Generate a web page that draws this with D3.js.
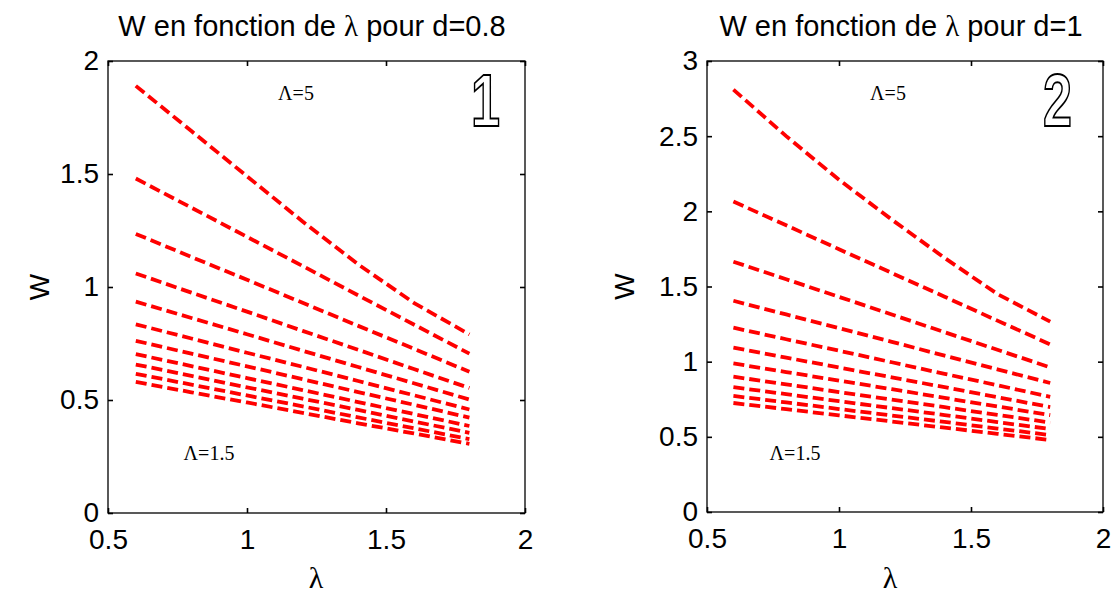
<!DOCTYPE html>
<html>
<head>
<meta charset="utf-8">
<script src="https://cdn.jsdelivr.net/npm/d3@7"></script>
<style>
  body { margin: 0; background: #fff; }
  svg { display: block; }
  .tick text { font-family: Arial, "Liberation Sans", sans-serif; }
</style>
</head>
<body>
<div id="chart"></div>
<script>
// lambda sample points (x)
var lambdas = [0.6, 0.8, 1.0, 1.2, 1.4, 1.6, 1.8];

// W values for d=0.8, one row per curve (Lambda = 5 at top ... 1.5 at bottom)
var wLeft = [
  [1.89, 1.69, 1.49, 1.29, 1.10, 0.93, 0.79],
  [1.48, 1.351, 1.222, 1.093, 0.963, 0.834, 0.705],
  [1.235, 1.133, 1.032, 0.930, 0.828, 0.727, 0.625],
  [1.06, 0.975, 0.891, 0.806, 0.722, 0.637, 0.553],
  [0.935, 0.863, 0.791, 0.718, 0.646, 0.574, 0.502],
  [0.835, 0.772, 0.709, 0.647, 0.584, 0.521, 0.458],
  [0.762, 0.705, 0.649, 0.592, 0.535, 0.479, 0.422],
  [0.703, 0.650, 0.597, 0.544, 0.491, 0.438, 0.385],
  [0.657, 0.607, 0.556, 0.506, 0.456, 0.405, 0.355],
  [0.616, 0.568, 0.520, 0.472, 0.423, 0.375, 0.327],
  [0.58, 0.534, 0.489, 0.443, 0.397, 0.352, 0.306]
];

// W values for d=1
var wRight = [
  [2.81, 2.50, 2.21, 1.945, 1.69, 1.45, 1.266],
  [2.065, 1.907, 1.748, 1.590, 1.432, 1.273, 1.115],
  [1.665, 1.548, 1.431, 1.314, 1.196, 1.079, 0.962],
  [1.405, 1.314, 1.223, 1.132, 1.040, 0.949, 0.858],
  [1.226, 1.149, 1.073, 0.996, 0.919, 0.843, 0.766],
  [1.093, 1.027, 0.961, 0.896, 0.830, 0.764, 0.698],
  [0.988, 0.931, 0.874, 0.817, 0.759, 0.702, 0.645],
  [0.90, 0.849, 0.798, 0.748, 0.697, 0.646, 0.595],
  [0.83, 0.784, 0.737, 0.691, 0.645, 0.598, 0.552],
  [0.772, 0.729, 0.685, 0.642, 0.599, 0.555, 0.512],
  [0.725, 0.684, 0.643, 0.602, 0.561, 0.520, 0.479]
];

var xTicks = [0.5, 1, 1.5, 2];
var yTicksLeft = [0, 0.5, 1, 1.5, 2];
var yTicksRight = [0, 0.5, 1, 1.5, 2, 2.5, 3];

var W = 1118, H = 595;
var svg = d3.select("#chart").append("svg")
    .attr("width", W).attr("height", H);

var panels = [
  {left: 108, right: 525, top: 61, bottom: 513, ymax: 2, yticks: yTicksLeft, data: wLeft,
   title: "d=0.8", titleX: 312, num: "1", numX: 485, lamTop: 296, lamBot: 209, ylabX: 39, xlabX: 316},
  {left: 707, right: 1103, top: 61, bottom: 512, ymax: 3, yticks: yTicksRight, data: wRight,
   title: "d=1", titleX: 901, num: "2", numX: 1057, lamTop: 888, lamBot: 795, ylabX: 624, xlabX: 890}
];

panels.forEach(function(p) {
  var x = d3.scaleLinear().domain([0.5, 2]).range([p.left, p.right]);
  var y = d3.scaleLinear().domain([0, p.ymax]).range([p.bottom, p.top]);
  var g = svg.append("g");

  // white box
  g.append("rect")
      .attr("x", p.left).attr("y", p.top)
      .attr("width", p.right - p.left).attr("height", p.bottom - p.top)
      .attr("fill", "#fff").attr("stroke", "#000").attr("stroke-width", 1.3);

  var line = d3.line()
      .x(function(d, i) { return x(lambdas[i]); })
      .y(function(d) { return y(d); });

  g.selectAll(".curve").data(p.data).enter().append("path")
      .attr("class", "curve")
      .attr("d", line)
      .attr("fill", "none")
      .attr("stroke", "#ff0000")
      .attr("stroke-width", 3.8)
      .attr("stroke-dasharray", "11,5");

  // axes, ticks inside
  var fs = "28px";
  g.append("g").attr("transform", "translate(0," + p.bottom + ")")
      .call(d3.axisBottom(x).tickValues(xTicks).tickSize(-5).tickPadding(16).tickFormat(d3.format("")))
      .call(function(a) { a.select(".domain").remove(); a.selectAll("text").style("font-size", fs).attr("fill", "#000"); });
  g.append("g").attr("transform", "translate(0," + p.top + ")")
      .call(d3.axisTop(x).tickValues(xTicks).tickSize(-5).tickFormat(""))
      .call(function(a) { a.select(".domain").remove(); });
  g.append("g").attr("transform", "translate(" + p.left + ",0)")
      .call(d3.axisLeft(y).tickValues(p.yticks).tickSize(-5).tickPadding(9).tickFormat(d3.format("")))
      .call(function(a) { a.select(".domain").remove(); a.selectAll("text").style("font-size", fs).attr("fill", "#000"); });
  g.append("g").attr("transform", "translate(" + p.right + ",0)")
      .call(d3.axisRight(y).tickValues(p.yticks).tickSize(-5).tickFormat(""))
      .call(function(a) { a.select(".domain").remove(); });

  g.selectAll(".tick line").attr("stroke-width", 1.6).attr("stroke", "#000");

  // title
  var t = g.append("text").attr("x", p.titleX).attr("y", 36)
      .attr("text-anchor", "middle")
      .style("font-family", "Arial, 'Liberation Sans', sans-serif")
      .style("font-size", "29px");
  t.append("tspan").text("W en fonction de ");
  t.append("tspan").style("font-family", "'Liberation Serif', serif").text("λ");
  t.append("tspan").text(" pour " + p.title);

  // axis labels
  g.append("text").attr("x", p.xlabX).attr("y", 588)
      .attr("text-anchor", "middle")
      .style("font-family", "'Liberation Serif', serif")
      .style("font-size", "30px").text("λ");
  g.append("text")
      .attr("transform", "translate(" + p.ylabX + "," + ((p.top + p.bottom) / 2) + ") rotate(-90)")
      .attr("text-anchor", "middle").attr("dy", "0.35em")
      .style("font-family", "Arial, 'Liberation Sans', sans-serif")
      .style("font-size", "28px").text("W");

  // annotations
  g.append("text").attr("x", p.lamTop).attr("y", 100)
      .attr("text-anchor", "middle")
      .style("font-family", "'Liberation Serif', 'Times New Roman', serif")
      .style("font-size", "20px").text("Λ=5");
  g.append("text").attr("x", p.lamBot).attr("y", 460)
      .attr("text-anchor", "middle")
      .style("font-family", "'Liberation Serif', 'Times New Roman', serif")
      .style("font-size", "20px").text("Λ=1.5");

  // panel number, outlined
  g.append("text").attr("x", p.numX - 14).attr("y", 126)
      .attr("textLength", 29).attr("lengthAdjust", "spacingAndGlyphs")
      .style("font-family", "'Liberation Sans', Arial, sans-serif")
      .style("font-weight", "bold")
      .style("font-size", "75px")
      .attr("fill", "#fff").attr("stroke", "#000").attr("stroke-width", 2)
      .text(p.num);
});
</script>
</body>
</html>
